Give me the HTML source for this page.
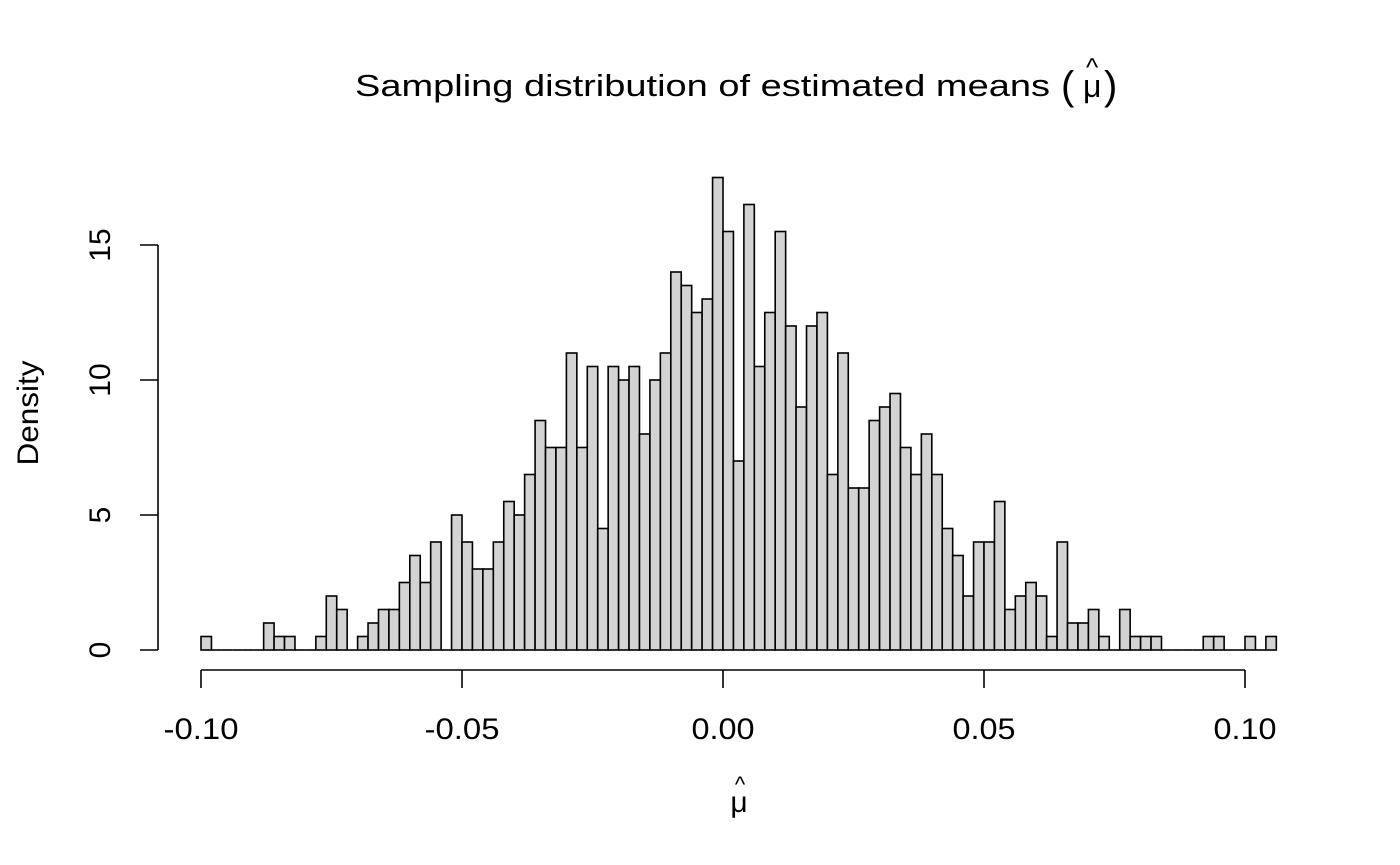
<!DOCTYPE html>
<html><head><meta charset="utf-8"><style>body{margin:0;background:#fff}svg{display:block}</style></head>
<body>
<svg id="s" width="1400" height="865" xmlns="http://www.w3.org/2000/svg" font-family="Liberation Sans, Arial, sans-serif">
<rect width="1400" height="865" fill="#fff"/>
<text x="355" y="96" font-size="31" textLength="695" lengthAdjust="spacingAndGlyphs">Sampling distribution of estimated means</text>
<text x="1061" y="99" font-size="40">(</text>
<text x="1083" y="97" font-size="32">μ</text>
<text x="1086" y="76" font-size="26">^</text>
<text x="1104" y="99" font-size="40">)</text>
<g id="bars" fill="#d3d3d3" stroke="#000" stroke-width="1.6"></g>
<g stroke="#000" stroke-width="1.6" fill="none">
<line x1="201" y1="670" x2="1245" y2="670"/>
<line x1="201" y1="670" x2="201" y2="688"/>
<line x1="462" y1="670" x2="462" y2="688"/>
<line x1="723" y1="670" x2="723" y2="688"/>
<line x1="984" y1="670" x2="984" y2="688"/>
<line x1="1245" y1="670" x2="1245" y2="688"/>
<line x1="158" y1="650" x2="158" y2="245"/>
<line x1="158" y1="650" x2="140" y2="650"/>
<line x1="158" y1="515" x2="140" y2="515"/>
<line x1="158" y1="380" x2="140" y2="380"/>
<line x1="158" y1="245" x2="140" y2="245"/>
</g>
<g font-size="30" text-anchor="middle">
<text x="201" y="739" textLength="75" lengthAdjust="spacingAndGlyphs">-0.10</text>
<text x="462" y="739" textLength="75" lengthAdjust="spacingAndGlyphs">-0.05</text>
<text x="723" y="739" textLength="63" lengthAdjust="spacingAndGlyphs">0.00</text>
<text x="984" y="739" textLength="63" lengthAdjust="spacingAndGlyphs">0.05</text>
<text x="1245" y="739" textLength="63" lengthAdjust="spacingAndGlyphs">0.10</text>
<text transform="translate(110,650) rotate(-90)">0</text>
<text transform="translate(110,515) rotate(-90)">5</text>
<text transform="translate(110,380) rotate(-90)">10</text>
<text transform="translate(110,245) rotate(-90)">15</text>
<text transform="translate(38,413) rotate(-90)" textLength="105" lengthAdjust="spacingAndGlyphs">Density</text>
<text x="739" y="812">μ</text>
<text x="740" y="792" font-size="22">^</text>
</g>
</svg>
<script>
var h=[0.5,0,0,0,0,0,1,0.5,0.5,0,0,0.5,2,1.5,0,0.5,1,1.5,1.5,2.5,3.5,2.5,4,0,5,4,3,3,4,5.5,5,6.5,8.5,7.5,7.5,11,7.5,10.5,4.5,10.5,10,10.5,8,10,11,14,13.5,12.5,13,17.5,15.5,7,16.5,10.5,12.5,15.5,12,9,12,12.5,6.5,11,6,6,8.5,9,9.5,7.5,6.5,8,6.5,4.5,3.5,2,4,4,5.5,1.5,2,2.5,2,0.5,4,1,1,1.5,0.5,0,1.5,0.5,0.5,0.5,0,0,0,0,0.5,0.5,0,0,0.5,0,0.5];
var g=document.getElementById('bars'),s='',w=10.44;
for(var i=0;i<h.length;i++){var x=201+i*w,y=650-h[i]*27;
if(h[i]>0)s+='<rect x="'+x.toFixed(2)+'" y="'+y.toFixed(2)+'" width="'+w+'" height="'+(h[i]*27).toFixed(2)+'"/>';
else s+='<line x1="'+x.toFixed(2)+'" y1="650" x2="'+(x+w).toFixed(2)+'" y2="650"/>';}
g.innerHTML=s;
</script>
</body></html>
